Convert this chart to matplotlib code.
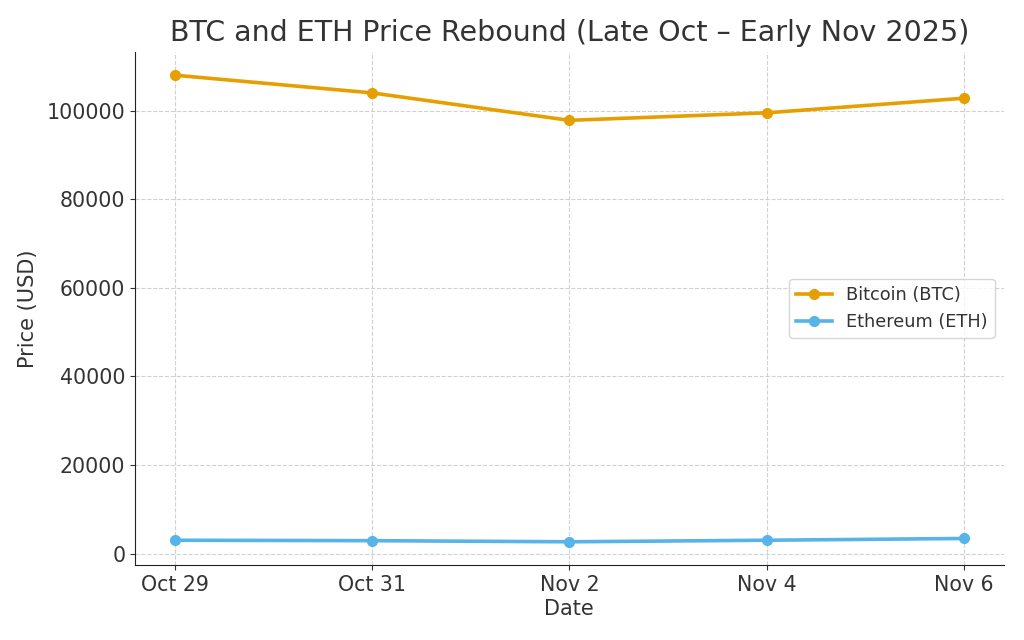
import matplotlib.pyplot as plt

dates = ["Oct 29", "Oct 31", "Nov 2", "Nov 4", "Nov 6"]
btc = [108000, 104000, 97800, 99500, 102800]
eth = [3000, 2900, 2650, 3000, 3400]

plt.rcParams['font.family'] = ['DejaVu Sans']
text_color = '#333333'

fig = plt.figure(figsize=(10.24, 6.4), dpi=100)
ax = fig.add_axes([0.132, 0.117, 0.848, 0.802])

ax.plot(dates, btc, marker='o', color='#E69F00', linewidth=2.6, markersize=7, label='Bitcoin (BTC)')
ax.plot(dates, eth, marker='o', color='#56B4E9', linewidth=2.6, markersize=7, label='Ethereum (ETH)')

ax.set_title('BTC and ETH Price Rebound (Late Oct – Early Nov 2025)', fontsize=20.5, color=text_color, pad=8)
ax.set_xlabel('Date', fontsize=15, color=text_color, labelpad=3)
ax.set_ylabel('Price (USD)', fontsize=15, color=text_color, labelpad=6)
ax.tick_params(labelsize=14.8, colors=text_color)
ax.grid(True, linestyle='--', color='#cccccc', linewidth=0.8, alpha=0.9)
ax.spines['top'].set_visible(False)
ax.spines['right'].set_visible(False)
ax.spines['left'].set_color('#222222')
ax.spines['bottom'].set_color('#222222')

leg = ax.legend(loc='center right', fontsize=12.8, frameon=True)
for t in leg.get_texts():
    t.set_color(text_color)

fig.savefig('out.png', dpi=100)
